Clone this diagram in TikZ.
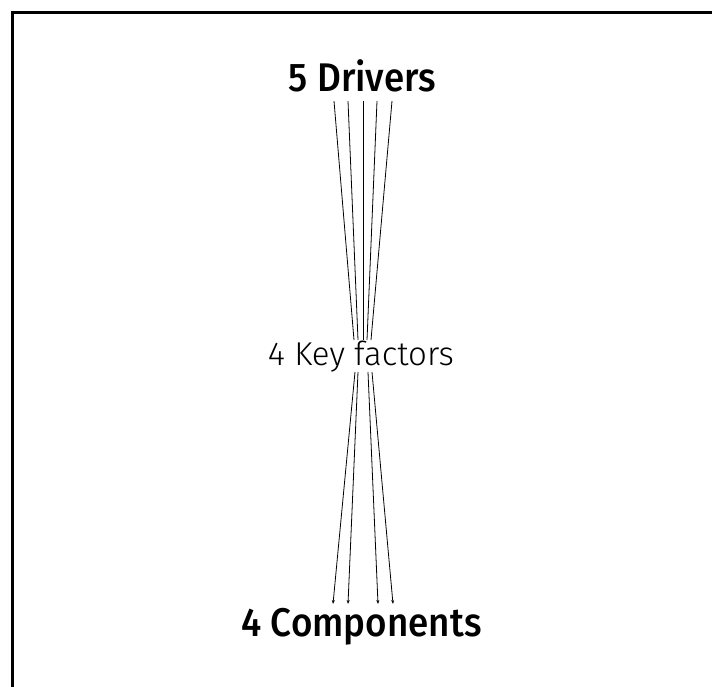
\documentclass[tikz,border=0pt]{standalone}
\usepackage{fontspec}
\setmainfont{Fira Sans}
\newfontfamily\headfont{Fira Sans Medium}
\newfontfamily\lightfont{Fira Sans Light}
\usetikzlibrary{arrows.meta}
\tikzset{
  level/.style={font=\headfont\fontsize{40}{44}\selectfont, inner sep=0pt, anchor=base, xscale=0.92},
  midlevel/.style={font=\lightfont\fontsize{33}{38}\selectfont, inner sep=0pt, anchor=base},
  feed/.style={line width=0.8pt},
}
\begin{document}
\begin{tikzpicture}[x=1pt, y=-1pt]
    \useasboundingbox (0,0) rectangle (712,686);

    % frame, open towards the right and the bottom edge
    \draw[line width=3pt] (12,720) -- (12,12) -- (740,12);

    % the three levels
    \node[level] (drv) at (362.5,91) {5 Drivers};
    \node[midlevel] (key) at (361,365) {4 Key factors};
    \node[level] (cmp) at (361.5,636) {4 Components};

    % drivers feed into the key factors
    \foreach \i/\a/\b in {1/334/354, 2/348/358, 3/363/363, 4/377/367, 5/392/371} {
        \coordinate (d\i) at (\a,101);
        \coordinate (k\i) at (\b,340);
        \draw[feed] (d\i) -- (k\i);
    }

    % key factors lead on to the components
    \foreach \i/\a/\b in {1/355/333, 2/358/348, 3/368/378, 4/372/393} {
        \coordinate (f\i) at (\a,372);
        \coordinate (c\i) at (\b,604);
        \draw[feed, -{Stealth[length=4pt, width=3pt]}] (f\i) -- (c\i);
    }
\end{tikzpicture}
\end{document}
